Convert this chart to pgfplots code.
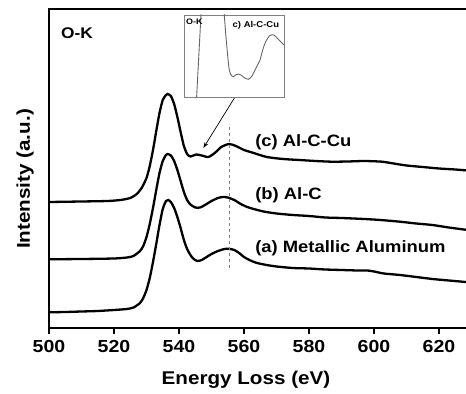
\documentclass[border=0pt]{standalone}
\usepackage{pgfplots}
\pgfplotsset{compat=1.18}
\usepackage{fontspec}
\setmainfont{Liberation Sans}[FakeStretch=1.12]
\usetikzlibrary{arrows.meta}
\begin{document}
\begin{tikzpicture}
\begin{axis}[
  at={(49bp,66bp)}, anchor=south west,
  scale only axis, width=422.5bp, height=319bp,
  xmin=500, xmax=630, ymin=0, ymax=319,
  xtick={500,520,...,620}, ytick=\empty,
  xtick pos=left, tick align=outside, major tick length=6bp,
  axis line style={line width=2bp},
  every tick/.style={line width=1.6bp, black},
  /pgf/number format/assume math mode=true,
  xticklabel style={font=\bfseries\fontsize{17.5}{17.5}\selectfont, yshift=-3bp},
]
% (a) Metallic Aluminum
\addplot[black, line width=2.3bp, smooth, tension=0.4] coordinates {
(500,15.7)(505,16)(510,16.5)(515,17)(520,18)(524,19)(526,20.5)(528,25)(529,30)(530,38)(531,50)(532,66)(533,84)(534,103)(535,119)(536,127)(536.7,128)(537.5,126)(538.5,120)(539.5,111)(540.5,100)(541.5,88)(542.5,79)(543.5,73)(544.5,69)(545.7,67)(547,68)(548.5,71)(550,74)(552,77)(554,79)(555.4,79.2)(557,78)(558.5,75)(560,71)(562,67.5)(564,65)(567,63)(570,61.5)(575,60)(580,59.5)(585,58.5)(590,58)(595,57.5)(598,57.5)(600,56.5)(603,54.5)(608,53)(613,51)(618,49)(623,47.5)(630,45.5)};
% (b) Al-C
\addplot[black, line width=2.3bp, smooth, tension=0.4] coordinates {
(500,68.7)(510,69)(520,69.5)(524,70.5)(526,72)(528,77)(529,82)(530,91)(531,104)(532,120)(533,138)(534,155)(535,167)(536,173)(536.5,174)(537.5,172.5)(538.5,167)(539.5,158)(540.5,147)(541.5,136)(542.5,128)(543.5,123.5)(545,120.5)(546.5,120.5)(548,123)(550,127)(552,130)(553.5,131)(555,130.5)(557,128)(559,124)(561,121)(563,119)(566,116.5)(570,114.5)(575,113)(580,112)(585,110.5)(590,110)(597,109)(602,108)(608,106.3)(613,104.5)(618,103)(623,100.5)(630,97.5)};
% (c) Al-C-Cu
\addplot[black, line width=2.3bp, smooth, tension=0.4] coordinates {
(500,126)(510,126.5)(518,127)(522,128)(525,130)(527,134)(528.5,140)(530,150)(531,162)(532,178)(533,197)(534,215)(535,228)(536,233)(536.5,234)(537.5,232)(538.5,224)(539.5,211)(540.5,196)(541.5,182)(542.5,174)(543.5,171.5)(545.3,173.5)(547,172.5)(549,171)(551,175)(553,181)(555.4,184)(557.5,182)(560,178)(563,175)(567,171)(572,169)(577,168)(582,167)(587,166.3)(592,166.5)(597,167)(602.5,166.3)(606,164.5)(610,162.5)(615,161)(620,159.5)(625,158.5)(630,157.2)};
% dashed marker line
\addplot[gray, line width=1bp, dash pattern=on 3bp off 3bp] coordinates {(555.4,60)(555.4,203)};
\draw[line width=0.7bp, -{Stealth[length=6bp,width=4bp]}] (axis cs:558.7,238.7) -- (axis cs:547.5,180);
\node[anchor=west, inner sep=0pt, font=\bfseries\fontsize{16.5}{16.5}\selectfont] at (axis cs:563.4,186) {(c) Al-C-Cu};
\node[anchor=west, inner sep=0pt, font=\bfseries\fontsize{16.5}{16.5}\selectfont] at (axis cs:563.4,133) {(b) Al-C};
\node[anchor=west, inner sep=0pt, font=\bfseries\fontsize{16.5}{16.5}\selectfont] at (axis cs:563.4,80) {(a) Metallic Aluminum};
\node[anchor=west, font=\bfseries\fontsize{15.5}{15.5}\selectfont, inner sep=0pt] at (axis cs:503.7,295) {O-K};
\end{axis}
% inset
\begin{axis}[
  at={(184bp,297bp)}, anchor=south west,
  scale only axis, width=100bp, height=82bp,
  xmin=184, xmax=284, ymin=0, ymax=82,
  xtick=\empty, ytick=\empty,
  axis line style={gray, line width=0.9bp},
  axis background/.style={fill=white},
]
\addplot[gray!80!black, line width=0.9bp, smooth, tension=0.3] coordinates {
(196.5,-2)(201,82)(203,115)};
\addplot[gray!80!black, line width=0.9bp, smooth, tension=0.4] coordinates {
(223.8,95)(224.3,82)(226,60)(228,38)(229.3,27)(231,22)(233.3,20.3)(235.5,22)(238.3,23)(241,22)(244,19.5)(248.3,17.7)(252,21)(256,29)(260,37)(263,48)(266,56)(270,61.5)(274,62)(278,58)(282,54)(284,52)};
\node[anchor=west, font=\bfseries\fontsize{8}{8}\selectfont, inner sep=0pt] at (axis cs:186,75.5) {O-K};
\node[anchor=west, font=\bfseries\fontsize{8.5}{8.5}\selectfont, inner sep=0pt] at (axis cs:232.5,72) {c) Al-C-Cu};
\end{axis}
\node[font=\bfseries\fontsize{18.5}{18.5}\selectfont] at (246bp,14bp) {Energy Loss (eV)};
\node[rotate=90, font=\bfseries\fontsize{18.5}{18.5}\selectfont] at (25bp,215bp) {Intensity (a.u.)};
\pgfresetboundingbox
\path (0bp,0bp) rectangle (466bp,394bp);
\end{tikzpicture}
\end{document}
